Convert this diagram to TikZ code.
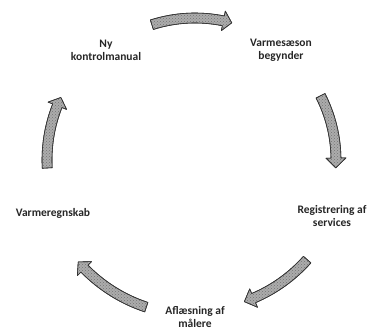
\documentclass[tikz,border=0pt]{standalone}
\usepackage{fontspec}
\setmainfont{Carlito}
\usetikzlibrary{calc,patterns}
\tikzset{
  lbl/.style={font=\bfseries\fontsize{11.5}{13}\selectfont, align=center, inner sep=0pt, text=black!85},
  cyc/.style={fill=gray!65, draw=black!80, line width=0.6pt, line join=round},
  cyctex/.style={pattern=crosshatch dots, pattern color=black!55}
}
% #1 radius, #2 start angle, #3 head-base angle, #4 tip angle
\newcommand\cycpath[4]{([shift={(C)}]#2:#1+5) arc[start angle=#2, end angle=#3, radius=#1+5]
    -- ([shift={(C)}]#3:#1+10) -- ([shift={(C)}]#4:#1) -- ([shift={(C)}]#3:#1-10)
    -- ([shift={(C)}]#3:#1-5) arc[start angle=#3, end angle=#2, radius=#1-5] -- cycle}
\newcommand\cycarrow[4]{%
  \path[cyc] \cycpath{#1}{#2}{#3}{#4};
  \path[cyctex] \cycpath{#1}{#2}{#3}{#4};
  \path[draw=black!80, line width=0.6pt, line join=round] \cycpath{#1}{#2}{#3}{#4};}
\begin{document}
\begin{tikzpicture}[x=1pt,y=1pt]
\useasboundingbox (0,0) rectangle (377,329);
\coordinate (C) at (195,169);
\cycarrow{142}{107.7}{78.5}{75}
\cycarrow{141}{27.1}{0.8}{-3.2}
\cycarrow{150}{-41.6}{-67}{-70.8}
\cycarrow{155}{-108.3}{-135.5}{-138.9}
\cycarrow{148}{183.1}{158.5}{155}
\node[lbl] (n1) at (106,279) {Ny\\kontrolmanual};
\node[lbl] (n2) at (281,279) {Varmesæson\\begynder};
\node[lbl] (n3) at (332,113) {Registrering af\\services};
\node[lbl] (n4) at (195,12) {Aflæsning af\\målere};
\node[lbl] (n5) at (53,116) {Varmeregnskab};
\end{tikzpicture}
\end{document}
